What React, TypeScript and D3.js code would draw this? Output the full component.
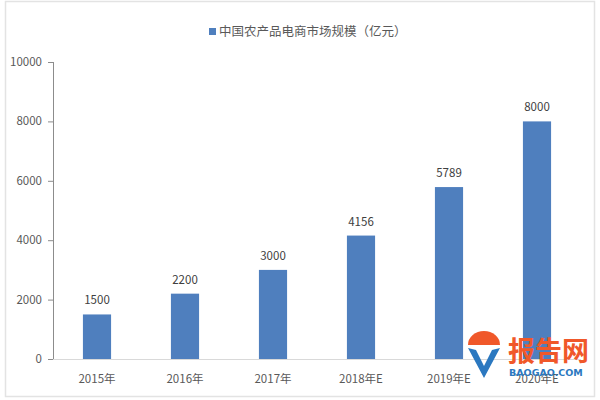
import React from "react";
import * as d3 from "d3";

const categories = ["2015年", "2016年", "2017年", "2018年E", "2019年E", "2020年E"];
const values = [1500, 2200, 3000, 4156, 5789, 8000];
const yTicks = [0, 2000, 4000, 6000, 8000, 10000];
const legendLabel = "中国农产品电商市场规模（亿元）";

export default function App() {
  const W = 600, H = 400;
  const left = 53, right = 581, top = 62, bottom = 359;
  const x = d3.scaleBand<string>().domain(categories).range([left, right]).paddingInner(0.68).paddingOuter(0.34);
  const y = d3.scaleLinear().domain([0, 10000]).range([bottom, top]);
  const font = "'Microsoft YaHei','Noto Sans CJK SC','DejaVu Sans',sans-serif";
  const color = "#4f7fbe";
  return (
    <svg width={W} height={H} style={{ position: "absolute", left: 0, top: 0, background: "#fff" }} fontFamily={font}>
      <rect x={5.5} y={1.5} width={589} height={395} fill="none" stroke="#e3e3e3" strokeWidth={1.5} />
      {/* legend */}
      <rect x={209} y={28} width={7} height={7} fill={color} />
      <text x={219} y={36} fontSize={12.5} fill="#595959">{legendLabel}</text>
      {/* x axis */}
      <line x1={left} x2={right} y1={bottom + 0.5} y2={bottom + 0.5} stroke="#d9d9d9" />
      {/* y axis */}
      <line x1={left + 0.5} x2={left + 0.5} y1={top} y2={bottom} stroke="#8c8c8c" />
      {yTicks.map((t) => (
        <g key={t}>
          <line x1={left - 5} x2={left} y1={y(t) + 0.5} y2={y(t) + 0.5} stroke="#8c8c8c" />
          <text x={42} y={y(t) + 4} fontSize={11.5} textAnchor="end" fill="#595959">{t}</text>
        </g>
      ))}
      {categories.map((c, i) => (
        <g key={c}>
          <rect x={x(c)} y={y(values[i])} width={x.bandwidth()} height={bottom - y(values[i])} fill={color} />
          <text x={x(c)! + x.bandwidth() / 2} y={y(values[i]) - 10} fontSize={11.5} textAnchor="middle" fill="#404040">{values[i]}</text>
          <text x={x(c)! + x.bandwidth() / 2} y={383} fontSize={11.5} textAnchor="middle" fill="#595959">{c}</text>
        </g>
      ))}
      {/* watermark */}
      <g>
        <path d="M468,345 a16,14 0 0 1 32,0 z" fill="#f0582a" />
        <path d="M468,348 L484,378 L500,348 L492,350 L484,366 L476,350 z" fill="#2b78c0" />
        <text x={508} y={361} fontSize={27} fontWeight="bold" fill="#f0582a" fontFamily="'Noto Sans CJK SC',sans-serif">报告网</text>
        <text x={509} y={376} fontSize={9.5} fontWeight="bold" fill="#2b78c0" fontFamily="'DejaVu Sans',sans-serif">BAOGAO.COM</text>
      </g>
    </svg>
  );
}
